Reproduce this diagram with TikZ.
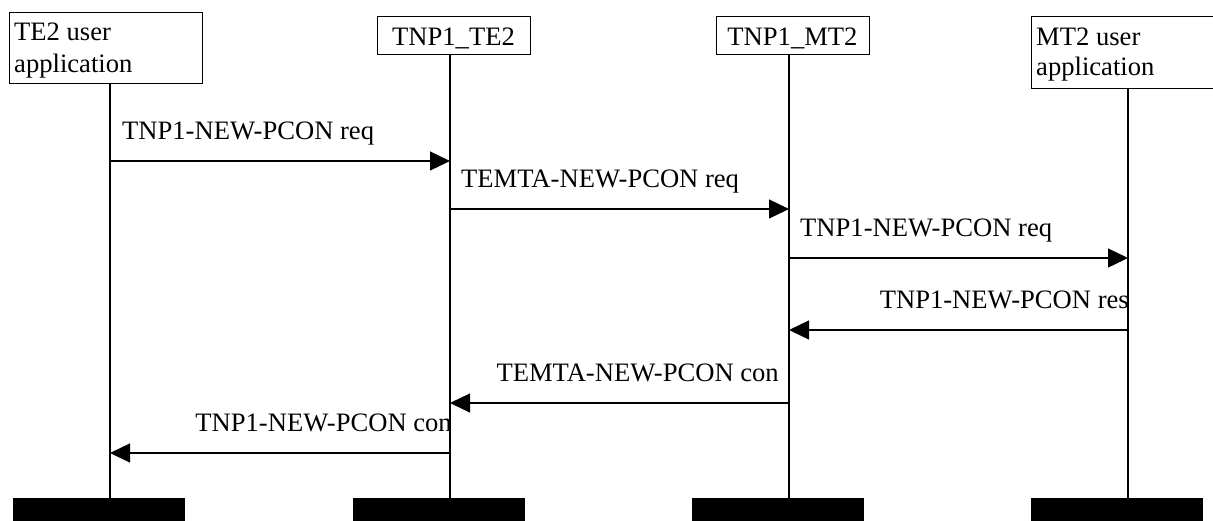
\documentclass[tikz,border=0pt]{standalone}
\usepackage{fontspec}
\setmainfont{Liberation Serif}
\usetikzlibrary{arrows.meta}
\begin{document}
\begin{tikzpicture}[x=1pt,y=-1pt,
  box/.style={draw,line width=1.3pt,inner sep=0pt,anchor=north west},
  txt/.style={font=\fontsize{26.6}{32}\selectfont,inner sep=0pt},
  life/.style={line width=1.3pt},
  msg/.style={line width=1.3pt,-{Triangle[length=20pt,width=19pt]}},
  bar/.style={fill=black,inner sep=0pt,anchor=north west,minimum width=172pt,minimum height=24pt}]
\useasboundingbox (0,0) rectangle (1213,520);
% header boxes
\node[box,minimum width=193pt,minimum height=71pt] (b1) at (9,12) {};
\node[box,minimum width=153pt,minimum height=38pt] (b2) at (377,16) {};
\node[box,minimum width=153pt,minimum height=38pt] (b3) at (716,16) {};
\node[box,minimum width=200pt,minimum height=72pt] (b4) at (1031,16) {};
\node[txt,align=left,anchor=base west] (t1) at (14,72) {TE2 user\\application};
\node[txt,anchor=base] (t2) at (453.5,45) {TNP1\_TE2};
\node[txt,anchor=base] (t3) at (792.5,45) {TNP1\_MT2};
\node[txt,align=left,anchor=base west,font=\fontsize{26.6}{30}\selectfont] (t4) at (1036,75) {MT2 user\\application};
% bottom bars
\node[bar] (e1) at (13,498) {};
\node[bar] (e2) at (353,498) {};
\node[bar] (e3) at (692,498) {};
\node[bar] (e4) at (1031,498) {};
% lifeline x positions
\coordinate (x1) at (110,0);
\coordinate (x2) at (450,0);
\coordinate (x3) at (789,0);
\coordinate (x4) at (1128,0);
\draw[life] (x1 |- b1.south) -- (x1 |- e1.north);
\draw[life] (x2 |- b2.south) -- (x2 |- e2.north);
\draw[life] (x3 |- b3.south) -- (x3 |- e3.north);
\draw[life] (x4 |- b4.south) -- (x4 |- e4.north);
% message rows
\coordinate (r1) at (0,161);
\coordinate (r2) at (0,209);
\coordinate (r3) at (0,258);
\coordinate (r4) at (0,330);
\coordinate (r5) at (0,403);
\coordinate (r6) at (0,453);
\draw[msg] (x1 |- r1) -- (x2 |- r1);
\draw[msg] (x2 |- r2) -- (x3 |- r2);
\draw[msg] (x3 |- r3) -- (x4 |- r3);
\draw[msg] (x4 |- r4) -- (x3 |- r4);
\draw[msg] (x3 |- r5) -- (x2 |- r5);
\draw[msg] (x2 |- r6) -- (x1 |- r6);
% message labels
\node[txt,anchor=base west] (m1) at (122,139) {TNP1-NEW-PCON req};
\node[txt,anchor=base west] (m2) at (461,187) {TEMTA-NEW-PCON req};
\node[txt,anchor=base west] (m3) at (800,236) {TNP1-NEW-PCON req};
\node[txt,anchor=base east] (m4) at (1129,308) {TNP1-NEW-PCON res};
\node[txt,anchor=base east] (m5) at (779,381) {TEMTA-NEW-PCON con};
\node[txt,anchor=base east] (m6) at (452,431) {TNP1-NEW-PCON con};
\end{tikzpicture}
\end{document}
